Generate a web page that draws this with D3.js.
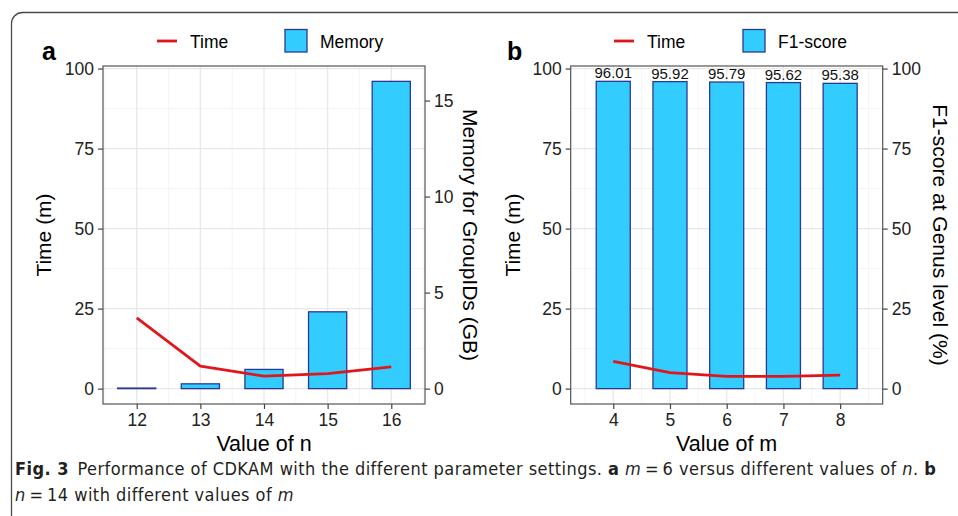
<!DOCTYPE html>
<html>
<head>
<meta charset="utf-8">
<script src="https://cdn.jsdelivr.net/npm/d3@7"></script>
<style>
  body { margin: 0; background: #fff; }
  svg { display: block; font-family: "Liberation Sans", Arial, sans-serif; }
  .caption { font-family: "Liberation Sans Narrow", "DejaVu Sans Condensed", sans-serif; }
</style>
</head>
<body>
<div id="chart"></div>
<script>
// panel a: m = 6, varying n
const nValues = [12, 13, 14, 15, 16];
const timeByN = [22.1, 7.0, 3.9, 4.7, 6.8];
const memoryGB = [0.03, 0.25, 1, 4, 16];
// panel b: n = 14, varying m
const mValues = [4, 5, 6, 7, 8];
const timeByM = [8.5, 5.0, 3.8, 3.8, 4.2];
const f1Score = [96.01, 95.92, 95.79, 95.62, 95.38];

const timeTicks = [0, 25, 50, 75, 100];
const memoryTicks = [0, 5, 10, 15];
const f1Ticks = [0, 25, 50, 75, 100];

const width = 958, height = 516;
const barFill = "#33ccff", barStroke = "#2a3a92", lineRed = "#e0161c";

const svg = d3.select("#chart").append("svg")
    .attr("width", width)
    .attr("height", height);

// figure frame
svg.append("rect")
    .attr("x", 11.5).attr("y", 12.5)
    .attr("width", 1000).attr("height", 600)
    .attr("rx", 11)
    .attr("fill", "none")
    .attr("stroke", "#4a4a4a")
    .attr("stroke-width", 1.3);

function drawPanel(opt) {
    const top = 66, bottom = 404;
    const g = svg.append("g");

    const x = d3.scaleLinear().domain(opt.xDomain).range([opt.left, opt.right]);
    const y = d3.scaleLinear().domain([-4.8, 100.8]).range([bottom, top]);
    const y2 = d3.scaleLinear().domain(opt.y2Domain).range([bottom, top]);

    // grid
    const minorX = opt.cats.map(d => d - 0.5).concat([opt.cats[opt.cats.length - 1] + 0.5])
        .filter(d => x(d) > opt.left && x(d) < opt.right);
    const minorY = [12.5, 37.5, 62.5, 87.5];
    g.selectAll(".gx-minor").data(minorX).join("line")
        .attr("x1", d => x(d)).attr("x2", d => x(d))
        .attr("y1", top).attr("y2", bottom)
        .attr("stroke", "#f2f2f2").attr("stroke-width", 0.8);
    g.selectAll(".gy-minor").data(minorY).join("line")
        .attr("x1", opt.left).attr("x2", opt.right)
        .attr("y1", d => y(d)).attr("y2", d => y(d))
        .attr("stroke", "#f2f2f2").attr("stroke-width", 0.8);
    g.selectAll(".gx").data(opt.cats).join("line")
        .attr("x1", d => x(d)).attr("x2", d => x(d))
        .attr("y1", top).attr("y2", bottom)
        .attr("stroke", "#e8e8e8").attr("stroke-width", 1.3);
    g.selectAll(".gy").data(timeTicks).join("line")
        .attr("x1", opt.left).attr("x2", opt.right)
        .attr("y1", d => y(d)).attr("y2", d => y(d))
        .attr("stroke", "#e8e8e8").attr("stroke-width", 1.3);

    // bars
    const bars = opt.cats.map((c, i) => ({c, v: opt.barValues[i]}));
    g.selectAll(".bar").data(bars).join("rect")
        .attr("x", d => x(d.c - 0.3))
        .attr("width", d => x(d.c + 0.3) - x(d.c - 0.3))
        .attr("y", d => y2(d.v))
        .attr("height", d => Math.max(0.5, y2(0) - y2(d.v)))
        .attr("fill", barFill)
        .attr("stroke", barStroke)
        .attr("stroke-width", 1.3);

    if (opt.barLabels) {
        g.selectAll(".blab").data(bars).join("text")
            .attr("x", d => x(d.c))
            .attr("y", d => y2(d.v) - 3)
            .attr("text-anchor", "middle")
            .attr("font-size", 15)
            .attr("fill", "#111")
            .text(d => d.v.toFixed(2));
    }

    // time line
    const line = d3.line().x(d => x(d.c)).y(d => y(d.t));
    g.append("path")
        .datum(opt.cats.map((c, i) => ({c, t: opt.times[i]})))
        .attr("d", line)
        .attr("fill", "none")
        .attr("stroke", lineRed)
        .attr("stroke-width", 2.8)
        .attr("stroke-linejoin", "round");

    // panel border
    g.append("rect")
        .attr("x", opt.left).attr("y", top)
        .attr("width", opt.right - opt.left).attr("height", bottom - top)
        .attr("fill", "none").attr("stroke", "#555").attr("stroke-width", 1.2);

    // axes
    const styleAxis = sel => {
        sel.select(".domain").remove();
        sel.selectAll(".tick line").attr("stroke", "#444").attr("stroke-width", 1.2);
        sel.selectAll(".tick text").attr("fill", "#222").attr("font-size", 17.5)
            .attr("font-family", "Liberation Sans, Arial, sans-serif");
    };
    g.append("g").attr("transform", `translate(${opt.left},0)`)
        .call(d3.axisLeft(y).tickValues(timeTicks).tickSize(5).tickPadding(4))
        .call(styleAxis);
    g.append("g").attr("transform", `translate(${opt.right},0)`)
        .call(d3.axisRight(y2).tickValues(opt.y2Ticks).tickSize(5).tickPadding(4))
        .call(styleAxis);
    g.append("g").attr("transform", `translate(0,${bottom})`)
        .call(d3.axisBottom(x).tickValues(opt.cats).tickFormat(d3.format("d")).tickSize(5).tickPadding(5))
        .call(styleAxis);

    // titles
    const cx = (opt.left + opt.right) / 2, cy = (top + bottom) / 2;
    g.append("text")
        .attr("transform", `translate(${opt.leftTitleX},${cy}) rotate(-90)`)
        .attr("text-anchor", "middle").attr("font-size", 21)
        .text("Time (m)");
    g.append("text")
        .attr("transform", `translate(${opt.rightTitleX},${cy}) rotate(90)`)
        .attr("text-anchor", "middle").attr("font-size", 21)
        .text(opt.rightTitle);
    g.append("text")
        .attr("x", cx).attr("y", 451)
        .attr("text-anchor", "middle").attr("font-size", 21.5)
        .text(opt.xTitle);

    // panel letter
    g.append("text")
        .attr("x", opt.letterX).attr("y", 60)
        .attr("font-size", 25).attr("font-weight", "bold")
        .text(opt.letter);

    // legend
    const lg = g.append("g").attr("transform", `translate(${opt.legendX},0)`);
    lg.append("line").attr("x1", 0).attr("x2", 20).attr("y1", 41).attr("y2", 41)
        .attr("stroke", lineRed).attr("stroke-width", 2.8);
    lg.append("text").attr("x", 33).attr("y", 47.5).attr("font-size", 17.5).text("Time");
    lg.append("rect").attr("x", opt.legendBoxDx).attr("y", 29.5)
        .attr("width", 22).attr("height", 22.5)
        .attr("fill", barFill).attr("stroke", barStroke).attr("stroke-width", 1.3);
    lg.append("text").attr("x", opt.legendBoxDx + 35).attr("y", 47.5)
        .attr("font-size", 17.5).text(opt.barName);
}

drawPanel({
    cats: nValues, times: timeByN, barValues: memoryGB,
    xDomain: [11.47, 16.53], left: 103, right: 425,
    y2Domain: [-0.8, 16.8], y2Ticks: memoryTicks,
    leftTitleX: 51, rightTitleX: 463,
    rightTitle: "Memory for GroupIDs (GB)", xTitle: "Value of n",
    letter: "a", letterX: 42,
    legendX: 157, legendBoxDx: 128, barName: "Memory"
});

drawPanel({
    cats: mValues, times: timeByM, barValues: f1Score, barLabels: true,
    xDomain: [3.25, 8.75], left: 570.7, right: 882.7,
    y2Domain: [-4.8, 100.8], y2Ticks: f1Ticks,
    leftTitleX: 520, rightTitleX: 933,
    rightTitle: "F1-score at Genus level (%)", xTitle: "Value of m",
    letter: "b", letterX: 507,
    legendX: 614, legendBoxDx: 129, barName: "F1-score"
});

// caption
const cap = svg.append("g").attr("class", "caption")
    .attr("font-size", 18).attr("letter-spacing", 0.45).attr("fill", "#231f20");
const line1 = cap.append("text").attr("x", 15).attr("y", 475);
line1.append("tspan").attr("font-weight", "bold").text("Fig. 3");
line1.append("tspan").text("\u2002Performance of CDKAM with the different parameter settings. ");
line1.append("tspan").attr("font-weight", "bold").text("a");
line1.append("tspan").text(" ");
line1.append("tspan").attr("font-style", "italic").text("m");
line1.append("tspan").text("\u2009=\u20096 versus different values of ");
line1.append("tspan").attr("font-style", "italic").text("n");
line1.append("tspan").text(". ");
line1.append("tspan").attr("font-weight", "bold").text("b");
const line2 = cap.append("text").attr("x", 15).attr("y", 501);
line2.append("tspan").attr("font-style", "italic").text("n");
line2.append("tspan").text("\u2009=\u200914 with different values of ");
line2.append("tspan").attr("font-style", "italic").text("m");
</script>
</body>
</html>
